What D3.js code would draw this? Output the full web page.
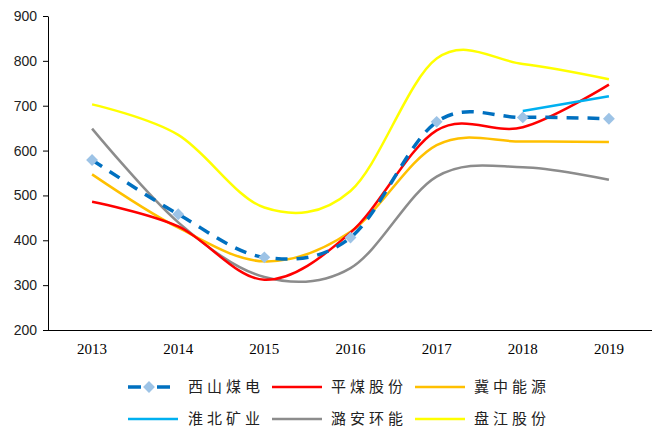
<!DOCTYPE html>
<meta charset="utf-8">
<style>
body { margin: 0; background: #fff; }
.axis path, .axis line { stroke: #000; }
.x-axis text { font-family: "Liberation Serif", serif; font-size: 15px; fill: #000; }
.y-axis text { font-family: "Liberation Sans", sans-serif; font-size: 14px; fill: #222; }
.legend text { font-family: "Noto Sans CJK SC", sans-serif; font-size: 15px; fill: #222; letter-spacing: 4px; }
</style>
<svg width="652" height="432"></svg>
<script src="https://d3js.org/d3.v7.min.js"></script>
<script>

var years = ["2013", "2014", "2015", "2016", "2017", "2018", "2019"];
var xishan   = [579, 458, 362, 406, 664, 674, 671];
var pingmei  = [486, 431, 312, 417, 645, 652, 747];
var jizhong  = [547, 428, 353, 419, 612, 620, 619];
var huaibei  = [null, null, null, null, null, 688, 721];
var luan     = [649, 440, 318, 338, 542, 563, 535];
var panjiang = [703, 635, 473, 510, 805, 793, 759];
var yTicks = [200, 300, 400, 500, 600, 700, 800, 900];

var series = [
  {name: "西山煤电", values: xishan,   color: "#0070C0", dashed: true},
  {name: "平煤股份", values: pingmei,  color: "#FF0000"},
  {name: "冀中能源", values: jizhong,  color: "#FFC000"},
  {name: "淮北矿业", values: huaibei,  color: "#00B0F0"},
  {name: "潞安环能", values: luan,     color: "#8C8C8C"},
  {name: "盘江股份", values: panjiang, color: "#FFFF00"}
];

var svg = d3.select("svg");
var plotL = 48, plotR = 652, plotT = 16, plotB = 330;

var x = d3.scaleBand().domain(years).range([plotL + 1, plotR]);
var y = d3.scaleLinear().domain([200, 900]).range([plotB, plotT]);

svg.append("g")
    .attr("class", "axis y-axis")
    .attr("transform", "translate(" + plotL + ",0)")
    .call(d3.axisLeft(y).tickValues(yTicks).tickSize(5).tickPadding(6).tickSizeOuter(0));

svg.append("g")
    .attr("class", "axis x-axis")
    .attr("transform", "translate(0," + plotB + ")")
    .call(d3.axisBottom(x).tickSize(0).tickPadding(13))
  .select(".domain")
    .attr("d", "M" + plotL + ",0.5H" + plotR);

var line = d3.line()
    .defined(function(d) { return d != null; })
    .x(function(d, i) { return x(years[i]) + x.bandwidth() / 2; })
    .y(function(d) { return y(d); })
    .curve(d3.curveCardinal.tension(0));

// draw back to front so the overlaps look like the reference
var drawOrder = [5, 4, 2, 1, 3, 0];
drawOrder.forEach(function(k) {
  var s = series[k];
  svg.append("path")
      .datum(s.values)
      .attr("fill", "none")
      .attr("stroke", s.color)
      .attr("stroke-width", s.dashed ? 3.5 : 2.5)
      .attr("stroke-dasharray", s.dashed ? "12,9" : null)
      .attr("d", line);
});

var diamond = d3.symbol(d3.symbolSquare, 70);

svg.append("g").selectAll("path")
    .data(xishan)
    .enter().append("path")
      .attr("d", diamond)
      .attr("transform", function(d, i) {
        return "translate(" + (x(years[i]) + x.bandwidth() / 2) + "," + y(d) + ") rotate(45)";
      })
      .attr("fill", "#9DC3E6");

// legend
var legend = svg.append("g").attr("class", "legend");
var colX = [128, 272, 415], rowY = [387, 419], sampleW = 50;

series.forEach(function(s, i) {
  var cx = colX[i % 3], cy = rowY[Math.floor(i / 3)];
  var g = legend.append("g").attr("transform", "translate(" + cx + "," + cy + ")");
  if (s.dashed) {
    g.append("line")
        .attr("x1", 0).attr("x2", 42).attr("y1", 0).attr("y2", 0)
        .attr("stroke", s.color).attr("stroke-width", 3.5)
        .attr("stroke-dasharray", "13,16,13");
    g.append("path")
        .attr("d", diamond)
        .attr("transform", "translate(21,0) rotate(45)")
        .attr("fill", "#9DC3E6");
  } else {
    g.append("line")
        .attr("x1", 0).attr("x2", sampleW).attr("y1", 0).attr("y2", 0)
        .attr("stroke", s.color).attr("stroke-width", 2.5);
  }
  g.append("text")
      .attr("x", i % 3 === 0 ? 60 : 59)
      .attr("y", 0)
      .attr("dy", "0.35em")
      .text(s.name);
});

</script>
